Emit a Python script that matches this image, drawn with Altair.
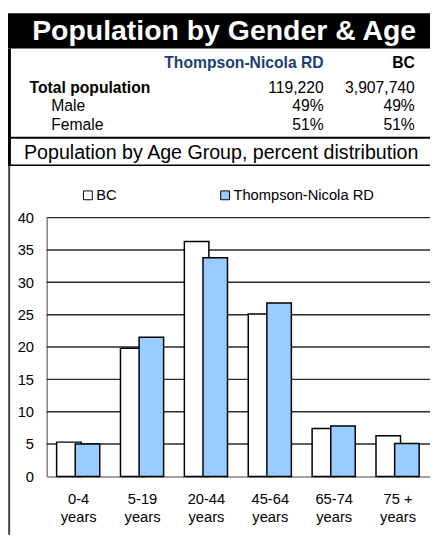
import altair as alt
import pandas as pd

# ---------------- data ----------------
age_groups = ["0-4 years", "5-19 years", "20-44 years", "45-64 years", "65-74 years", "75 + years"]
bc_pct = [5.3, 19.8, 36.3, 25.1, 7.4, 6.3]
tn_pct = [5.0, 21.5, 33.8, 26.8, 7.8, 5.1]
series_names = ["BC", "Thompson-Nicola RD"]
series_colors = ["#FFFFFF", "#99CCFF"]

table_labels = ["Total population", "Male", "Female"]
table_tn = ["119,220", "49%", "51%"]
table_bc = ["3,907,740", "49%", "51%"]
table_head = ["Thompson-Nicola RD", "BC"]

title_text = "Population by Gender & Age"
subtitle_text = "Population by Age Group, percent distribution"
y_ticks = [0, 5, 10, 15, 20, 25, 30, 35, 40]

df = pd.DataFrame({
    "age": age_groups * 2,
    "series": [series_names[0]] * len(age_groups) + [series_names[1]] * len(age_groups),
    "pct": bc_pct + tn_pct,
})
grid_df = pd.DataFrame({"gv": y_ticks[1:]})

# ---------------- layout helpers (page px -> plot px) ----------------
PAD_L, PAD_T, W, H = 39.5, 208.5, 391, 264
PAD_B = 532 - PAD_T - H
FONT = "Liberation Sans"


def X(px):
    return px - 8 - PAD_L


def Y(py):
    return py - 8 - PAD_T


one = pd.DataFrame({"k": [0]})

y_scale = alt.Scale(domain=[0, 40], nice=False)
y_axis = alt.Axis(title=None, values=y_ticks, ticks=False, labelFontSize=15,
                  labelColor="black", labelPadding=13.5,
                  domainColor="#808080", domainWidth=1.5, grid=False)

# ---------------- gridlines (from the y scale) ----------------
grid = alt.Chart(grid_df).mark_rule(stroke="#2a2a2a", strokeWidth=1.5, opacity=1).encode(
    y=alt.Y("gv:Q", scale=y_scale, axis=y_axis))

# ---------------- bars ----------------
base = alt.Chart(df).encode(
    x=alt.X("age:N", sort=age_groups,
            scale=alt.Scale(paddingInner=0, paddingOuter=0),
            axis=alt.Axis(title=None, ticks=False, labelAngle=0, labelFontSize=15,
                          labelColor="black", labelPadding=15.5, labelLineHeight=18,
                          labelExpr="[replace(datum.label, ' years', ''), 'years']",
                          domainColor="#808080", domainWidth=1.5, grid=False)),
    y=alt.Y("pct:Q", scale=y_scale, axis=y_axis),
    color=alt.Color("series:N",
                    scale=alt.Scale(domain=series_names, range=series_colors),
                    legend=alt.Legend(orient="none", legendX=X(82), legendY=Y(186),
                                      direction="horizontal", title=None,
                                      symbolType="square", symbolSize=81,
                                      symbolStrokeColor="black", symbolStrokeWidth=1,
                                      labelFontSize=15, labelColor="black", labelOffset=1,
                                      columnPadding=103)),
)

bars_bc = base.transform_filter(alt.datum.series == series_names[0]).mark_bar(
    width=25, xOffset=-10, stroke="black", strokeWidth=1.5, opacity=1)
bars_tn = base.transform_filter(alt.datum.series == series_names[1]).mark_bar(
    width=25, xOffset=9, stroke="black", strokeWidth=1.5, opacity=1)

# ---------------- frame ----------------
band = alt.Chart(one).mark_rect(color="black").encode(
    x=alt.value(X(8)), x2=alt.value(X(438.5)), y=alt.value(Y(8)), y2=alt.value(Y(44)))
left_top = alt.Chart(one).mark_rule(color="black", strokeWidth=3).encode(
    x=alt.value(X(9.5)), y=alt.value(Y(44)), y2=alt.value(Y(163)))
left_bottom = alt.Chart(one).mark_rule(color="#404040", strokeWidth=2).encode(
    x=alt.value(X(9.2)), y=alt.value(Y(163)), y2=alt.value(Y(540)))
hline1 = alt.Chart(one).mark_rule(color="black", strokeWidth=2).encode(
    x=alt.value(X(8)), x2=alt.value(X(438.5)), y=alt.value(Y(135)))
hline2 = alt.Chart(one).mark_rule(color="black", strokeWidth=1.5).encode(
    x=alt.value(X(8)), x2=alt.value(X(438.5)), y=alt.value(Y(163)))

# ---------------- texts ----------------
title = alt.Chart(one).mark_text(align="center", baseline="alphabetic", fontSize=29,
                                 fontWeight="bold", color="white", font=FONT).encode(
    x=alt.value(X(228.5)), y=alt.value(Y(35)), text=alt.value(title_text))

subtitle = alt.Chart(one).mark_text(align="center", baseline="alphabetic", fontSize=20,
                                    color="black", font=FONT).encode(
    x=alt.value(X(225.5)), y=alt.value(Y(157)), text=alt.value(subtitle_text))

head_tn = alt.Chart(one).mark_text(align="right", baseline="alphabetic", fontSize=16,
                                   fontWeight="bold", color="#1B3F72", font=FONT).encode(
    x=alt.value(X(330)), y=alt.value(Y(64)), text=alt.value(table_head[0]))
head_bc = alt.Chart(one).mark_text(align="right", baseline="alphabetic", fontSize=16,
                                   fontWeight="bold", color="black", font=FONT).encode(
    x=alt.value(X(423)), y=alt.value(Y(64)), text=alt.value(table_head[1]))

row_base_y = [89.5, 108, 127]
row_x = [30, 52, 52]
row_weight = ["bold", "normal", "normal"]
table_layers = []
for i in range(len(table_labels)):
    tdf = pd.DataFrame({"label": [table_labels[i]], "tn": [table_tn[i]], "bc": [table_bc[i]]})
    tc = alt.Chart(tdf)
    table_layers.append(tc.mark_text(align="left", baseline="alphabetic", fontSize=16,
                                     fontWeight=row_weight[i], color="black", font=FONT).encode(
        x=alt.value(X(row_x[i])), y=alt.value(Y(row_base_y[i])), text="label:N"))
    table_layers.append(tc.mark_text(align="right", baseline="alphabetic", fontSize=16,
                                     color="black", font=FONT).encode(
        x=alt.value(X(330)), y=alt.value(Y(row_base_y[i])), text="tn:N"))
    table_layers.append(tc.mark_text(align="right", baseline="alphabetic", fontSize=16,
                                     color="black", font=FONT).encode(
        x=alt.value(X(423)), y=alt.value(Y(row_base_y[i])), text="bc:N"))

chart = alt.layer(
    band, left_top, left_bottom, hline1, hline2,
    grid, bars_bc, bars_tn,
    title, subtitle, head_tn, head_bc, *table_layers,
).properties(
    width=W, height=H,
    padding={"left": PAD_L, "top": PAD_T, "right": 0, "bottom": PAD_B},
    autosize=alt.AutoSizeParams(type="none"),
    background="white",
).configure(
    font=FONT
).configure_view(
    strokeWidth=0
).configure_legend(
    padding=0
)

chart.save("out.html", embed_options={"renderer": "svg", "actions": False})
